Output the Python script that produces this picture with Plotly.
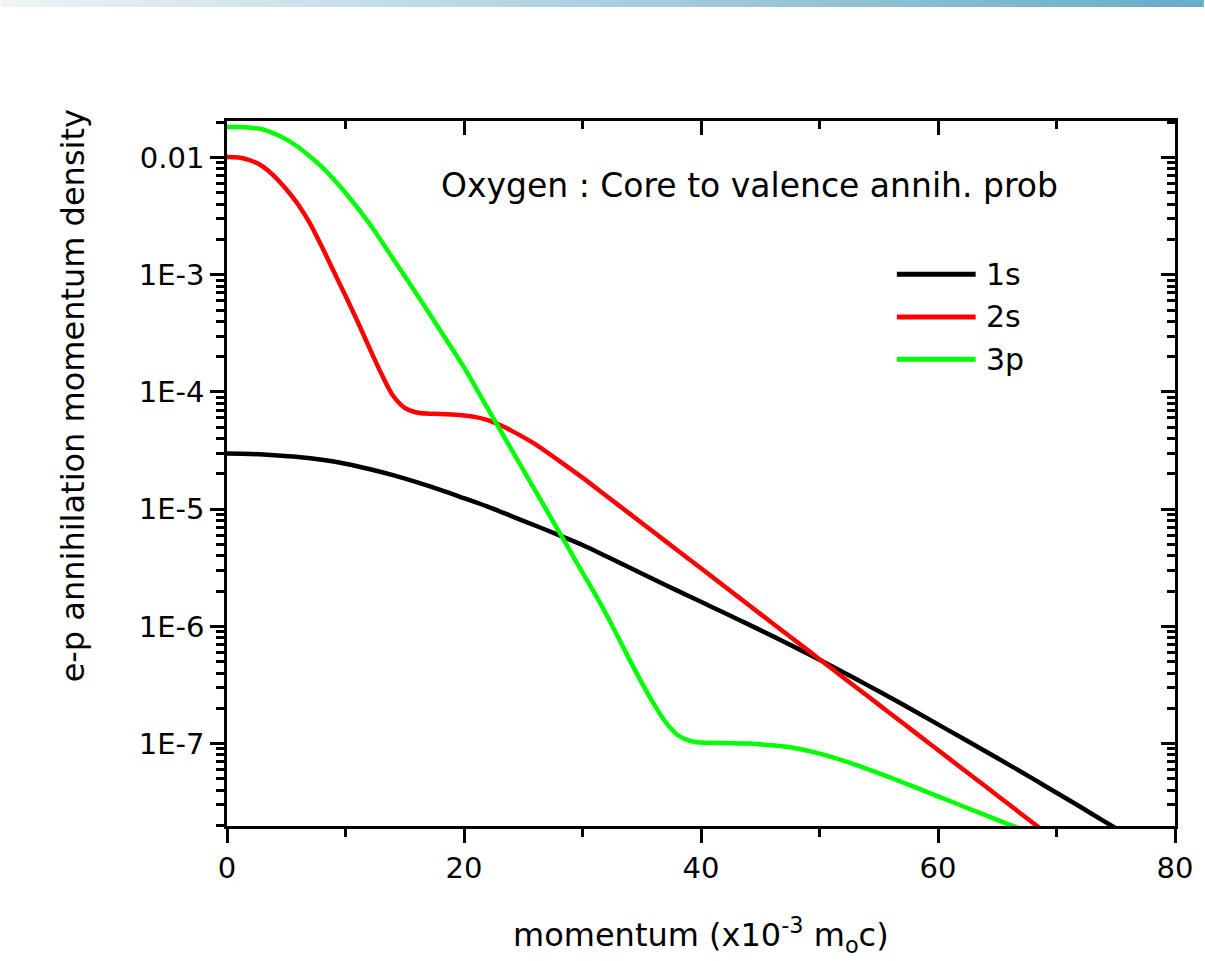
import plotly.graph_objects as go

# ---------------- data ----------------
x_1s = [0, 2, 4, 6, 8, 10, 12, 14, 16, 18, 20, 22, 24, 26, 28, 30, 32, 34, 36, 38,
        40, 42, 44, 46, 48, 50, 52, 54, 56, 58, 60, 62, 64, 66, 68, 70, 72, 74, 76]
y_1s = [2.98e-5, 2.96e-5, 2.89e-5, 2.79e-5, 2.64e-5, 2.44e-5, 2.20e-5, 1.95e-5, 1.70e-5, 1.46e-5,
        1.24e-5, 1.05e-5, 8.73e-6, 7.26e-6, 6.01e-6, 4.95e-6, 3.97e-6, 3.17e-6, 2.52e-6, 2.02e-6,
        1.62e-6, 1.30e-6, 1.04e-6, 8.30e-7, 6.59e-7, 5.19e-7, 4.06e-7, 3.17e-7, 2.46e-7, 1.90e-7,
        1.46e-7, 1.12e-7, 8.61e-8, 6.59e-8, 5.02e-8, 3.81e-8, 2.89e-8, 2.18e-8, 1.65e-8]

x_2s = [0, 1, 2, 3, 4, 5, 6, 7, 8, 9, 10, 11, 12, 13, 14, 15, 16, 17, 18, 19, 20, 21, 22, 23, 24,
        26, 28, 30, 32, 34, 36, 38, 40, 42, 44, 46, 48, 50, 52, 54, 56, 58, 60, 62, 64, 66, 68, 70]
y_2s = [1.01e-2, 1.00e-2, 9.44e-3, 8.41e-3, 6.92e-3, 5.37e-3, 3.98e-3, 2.75e-3, 1.74e-3, 1.07e-3,
        6.61e-4, 4.03e-4, 2.40e-4, 1.45e-4, 9.33e-5, 7.33e-5, 6.68e-5, 6.53e-5, 6.50e-5, 6.43e-5,
        6.31e-5, 6.10e-5, 5.75e-5, 5.25e-5, 4.68e-5,
        3.59e-5, 2.60e-5, 1.86e-5, 1.30e-5, 9.12e-6, 6.38e-6, 4.47e-6, 3.13e-6, 2.19e-6, 1.53e-6,
        1.07e-6, 7.50e-7, 5.25e-7, 3.67e-7, 2.57e-7, 1.80e-7, 1.26e-7, 8.81e-8, 6.17e-8, 4.32e-8,
        3.02e-8, 2.11e-8, 1.48e-8]

x_3p = [0, 1, 2, 3, 4, 5, 6, 7, 8, 9, 10, 12, 14, 16, 18, 20, 22, 24, 26, 28, 30, 31, 32, 33,
        34, 35, 36, 37, 38, 39, 40, 42, 44, 46, 48, 50, 52, 54, 56, 58, 60, 62, 64, 66, 68]
y_3p = [1.82e-2, 1.82e-2, 1.80e-2, 1.74e-2, 1.60e-2, 1.43e-2, 1.23e-2, 1.02e-2, 8.32e-3, 6.53e-3,
        5.01e-3, 2.75e-3, 1.38e-3, 6.84e-4, 3.35e-4, 1.62e-4, 7.24e-5, 3.24e-5, 1.45e-5, 6.46e-6,
        2.88e-6, 1.93e-6, 1.27e-6, 8.13e-7, 5.13e-7, 3.31e-7, 2.19e-7, 1.53e-7, 1.19e-7, 1.06e-7,
        1.02e-7, 1.01e-7, 1.00e-7, 9.66e-8, 9.12e-8, 8.22e-8, 7.16e-8, 6.10e-8, 5.13e-8, 4.27e-8,
        3.55e-8, 2.95e-8, 2.45e-8, 2.04e-8, 1.70e-8]

series_names = ["1s", "2s", "3p"]
series_colors = ["#000000", "#ff0000", "#00ff00"]

x_tickvals = [0, 20, 40, 60, 80]
y_tickvals = [1e-2, 1e-3, 1e-4, 1e-5, 1e-6, 1e-7]
y_ticktext = ["0.01", "1E-3", "1E-4", "1E-5", "1E-6", "1E-7"]

x_range = [0, 80]
y_range_log = [-7.703, -1.688]

FONT = "DejaVu Sans"

# ---------------- figure ----------------
fig = go.Figure()
for xs, ys, name, col in zip([x_1s, x_2s, x_3p], [y_1s, y_2s, y_3p], series_names, series_colors):
    fig.add_trace(go.Scatter(x=xs, y=ys, mode="lines", name=name,
                             line=dict(color=col, width=4.5, shape="spline", smoothing=0.8),
                             showlegend=False))

axis_common = dict(showline=True, linecolor="black", linewidth=2.5, showgrid=False,
                   zeroline=False, tickcolor="black", tickwidth=2.5)

fig.update_layout(
    width=1205, height=961,
    margin=dict(l=227, r=27, t=121, b=135),
    paper_bgcolor="white", plot_bgcolor="white",
    font=dict(family=FONT, color="black"),
    xaxis=dict(range=x_range, tickmode="array", tickvals=x_tickvals, ticks="outside",
               ticklen=14, tickfont=dict(size=29, family=FONT),
               minor=dict(tickmode="linear", tick0=0, dtick=10, ticks="outside", ticklen=8,
                          tickwidth=2.5, tickcolor="black", showgrid=False),
               **axis_common),
    yaxis=dict(type="log", range=y_range_log, tickmode="array", tickvals=y_tickvals,
               ticktext=y_ticktext, ticks="outside", ticklen=14,
               tickfont=dict(size=29, family=FONT),
               minor=dict(dtick="D1", ticks="outside", ticklen=8, tickwidth=2.5,
                          tickcolor="black", showgrid=False),
               **axis_common),
    xaxis2=dict(range=x_range, overlaying="x", side="top", anchor="y", matches="x",
                tickmode="array", tickvals=x_tickvals, ticks="inside", ticklen=14,
                showticklabels=False,
                minor=dict(tickmode="linear", tick0=0, dtick=10, ticks="inside", ticklen=8,
                           tickwidth=2.5, tickcolor="black", showgrid=False),
                **axis_common),
    yaxis2=dict(type="log", range=y_range_log, overlaying="y", side="right", anchor="x",
                tickmode="array", tickvals=y_tickvals, ticks="inside", ticklen=14,
                showticklabels=False,
                minor=dict(dtick="D1", ticks="inside", ticklen=8, tickwidth=2.5,
                           tickcolor="black", showgrid=False),
                **axis_common),
)

# invisible trace so the mirrored (top/right) axes are drawn
fig.add_trace(go.Scatter(x=[x_range[0]], y=[y_tickvals[0]], xaxis="x2", yaxis="y2",
                         mode="markers", marker=dict(opacity=0), showlegend=False,
                         hoverinfo="skip"))

# axis titles and inner title
fig.add_annotation(text="momentum (x10<sup>-3</sup> m<sub>o</sub>c)", xref="paper", yref="paper",
                   x=0.5005, y=-0.155, xanchor="center", yanchor="middle", showarrow=False,
                   font=dict(size=32, family=FONT))
fig.add_annotation(text="e-p annihilation momentum density", xref="paper", yref="paper",
                   x=-0.162, y=0.610, xanchor="center", yanchor="middle", textangle=-90,
                   showarrow=False, font=dict(size=32, family=FONT))
fig.add_annotation(text="Oxygen : Core to valence annih. prob", xref="paper", yref="paper",
                   x=0.5515, y=0.908, xanchor="center", yanchor="middle", showarrow=False,
                   font=dict(size=33, family=FONT))

# manual legend (long line samples as in the reference)
leg_y = [0.7826, 0.722, 0.662]
for name, col, ly in zip(series_names, series_colors, leg_y):
    fig.add_shape(type="line", xref="paper", yref="paper", x0=0.7066, x1=0.7897, y0=ly, y1=ly,
                  line=dict(color=col, width=5))
    fig.add_annotation(text=name, xref="paper", yref="paper", x=0.799, y=ly, xanchor="left",
                       yanchor="middle", showarrow=False, font=dict(size=30, family=FONT))

# decorative gradient band at the very top of the page
n_band = 60
c0 = (237, 243, 247)
c1 = (104, 173, 200)
px0, px1 = -227 / 951, (1205 - 227) / 951
ytop, ybot = 1 + 121 / 705, 1 + (121 - 7) / 705
for i in range(n_band):
    t = i / (n_band - 1)
    col = "rgb(%d,%d,%d)" % tuple(round(a + (b - a) * t) for a, b in zip(c0, c1))
    xa = px0 + (px1 - px0) * i / n_band
    xb = px0 + (px1 - px0) * (i + 1) / n_band
    fig.add_shape(type="rect", xref="paper", yref="paper", x0=xa, x1=xb + 0.002, y0=ybot, y1=ytop,
                  line=dict(width=0), fillcolor=col, layer="below")

fig.write_html("out.html")
